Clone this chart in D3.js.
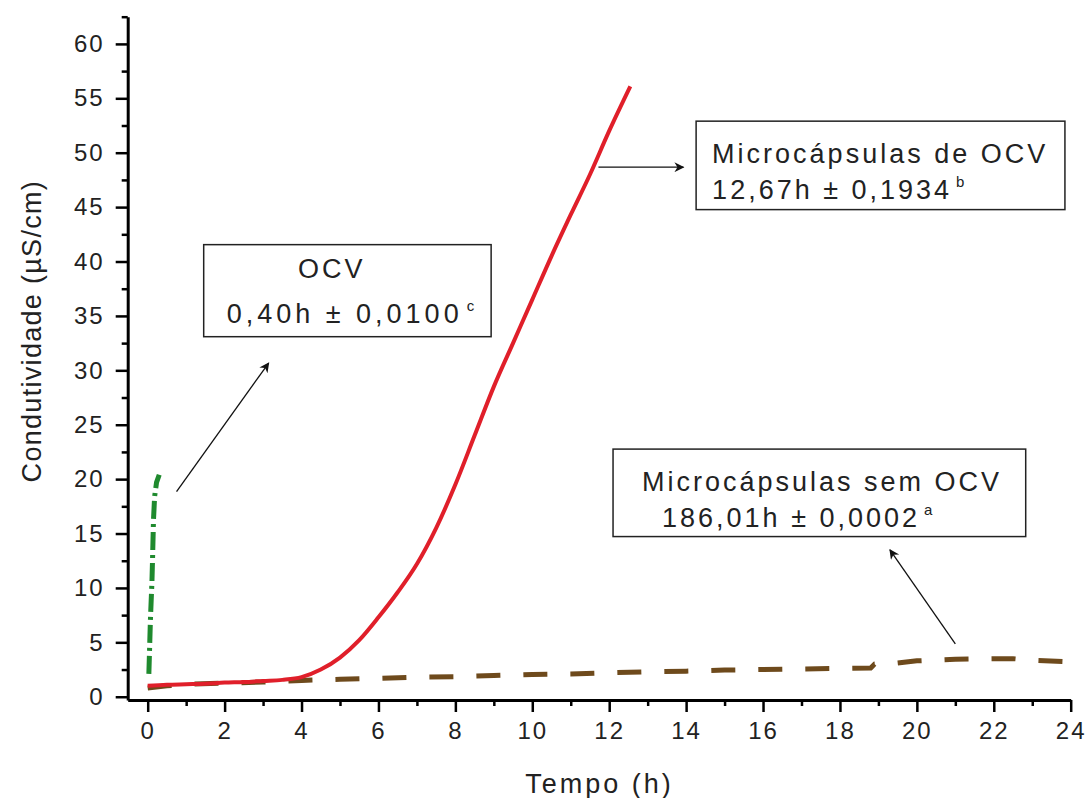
<!DOCTYPE html>
<html>
<head>
<meta charset="utf-8">
<script src="https://cdn.jsdelivr.net/npm/d3@7"></script>
<style>
  body { margin: 0; background: #fff; }
  text { font-family: Arial, "Liberation Sans", sans-serif; fill: #222; }
</style>
</head>
<body>
<script>
// series (time in h, conductivity in µS/cm)
var ocvTime = [0.03, 0.05, 0.07, 0.09, 0.11, 0.13, 0.15, 0.18, 0.23, 0.30];
var ocvCond = [2.1, 4.5, 7.0, 8.8, 10.5, 13.2, 16.2, 18.4, 19.7, 20.4];

var comOcvTime = [0, 0.5, 1, 1.5, 2, 2.5, 3, 3.5, 4, 4.5, 5, 5.5, 6, 6.5, 7, 7.5, 8, 8.5, 9, 9.5, 10, 10.5, 11, 11.5, 12, 12.55];
var comOcvCond = [1.0, 1.1, 1.15, 1.2, 1.3, 1.35, 1.45, 1.55, 1.8, 2.5, 3.6, 5.2, 7.3, 9.6, 12.2, 15.5, 19.5, 24.0, 28.5, 32.5, 36.5, 40.5, 44.3, 48.0, 52.0, 56.1];

var semOcvTime = [0, 0.5, 1, 2, 3, 4, 5, 6, 7, 8, 9, 10, 11, 12, 13, 14, 15, 16, 17, 18, 18.8, 18.9, 19.5, 20, 21, 22, 22.5, 23, 24];
var semOcvCond = [0.8, 1.0, 1.15, 1.25, 1.35, 1.5, 1.6, 1.7, 1.8, 1.85, 1.95, 2.05, 2.1, 2.2, 2.3, 2.35, 2.45, 2.5, 2.55, 2.6, 2.65, 3.0, 3.1, 3.3, 3.45, 3.5, 3.5, 3.35, 3.2];

var xMajorTicks = [0, 2, 4, 6, 8, 10, 12, 14, 16, 18, 20, 22, 24];
var xMinorTicks = [1, 3, 5, 7, 9, 11, 13, 15, 17, 19, 21, 23];
var yMajorTicks = [0, 5, 10, 15, 20, 25, 30, 35, 40, 45, 50, 55, 60];
var yMinorTicks = [2.5, 7.5, 12.5, 17.5, 22.5, 27.5, 32.5, 37.5, 42.5, 47.5, 52.5, 57.5, 62.5];

var xTitle = "Tempo (h)";
var yTitle = "Condutividade (µS/cm)";

// annotation boxes (corners in data units), label lines, arrows
var boxCorners = [[1.456, 41.55, 8.93, 33.09], [14.26, 52.9, 23.85, 44.77], [12.10, 22.76, 22.83, 14.72]];
var boxLine1 = ["OCV", "Microcápsulas de OCV", "Microcápsulas sem OCV"];
var boxLine2 = ["0,40h ± 0,0100", "12,67h ± 0,1934", "186,01h ± 0,0002"];
var boxSup = ["c", "b", "a"];
var arrowFrom = [[0.75, 18.86], [11.72, 48.67], [21.0, 4.85]];
var arrowTo = [[3.145, 30.67], [13.93, 48.67], [19.3, 13.5]];

var W = 1089, H = 798;
var svg = d3.select("body").append("svg").attr("width", W).attr("height", H);

var x = d3.scaleLinear().domain([-0.52, 24]).range([127.7, 1070.7]);
var y = d3.scaleLinear().domain([-0.3, 62.5]).range([700, 16.7]);

svg.append("defs").append("marker")
  .attr("id", "head")
  .attr("viewBox", "0 0 10 10")
  .attr("refX", 9).attr("refY", 5)
  .attr("markerWidth", 14).attr("markerHeight", 10)
  .attr("markerUnits", "userSpaceOnUse")
  .attr("orient", "auto")
  .append("path").attr("d", "M0,0L10,5L0,10L3,5Z").attr("fill", "#111");

// axes
svg.append("g").attr("transform", "translate(0,700)")
  .call(d3.axisBottom(x).tickValues(xMajorTicks).tickSize(12).tickSizeOuter(0).tickPadding(10));
svg.append("g").attr("transform", "translate(0,700)")
  .call(d3.axisBottom(x).tickValues(xMinorTicks).tickSize(6).tickFormat(""))
  .select(".domain").remove();
svg.append("g").attr("transform", "translate(127.7,0)")
  .call(d3.axisLeft(y).tickValues(yMajorTicks).tickSize(12).tickSizeOuter(0).tickPadding(11));
svg.append("g").attr("transform", "translate(127.7,0)")
  .call(d3.axisLeft(y).tickValues(yMinorTicks).tickSize(6).tickFormat(""))
  .select(".domain").remove();

svg.selectAll(".domain").attr("stroke", "#000").attr("stroke-width", 3);
svg.selectAll(".tick line").attr("stroke", "#000").attr("stroke-width", 2.5);
svg.selectAll(".tick text")
  .attr("font-size", 24)
  .attr("letter-spacing", 2)
  .attr("fill", "#222")
  .attr("font-family", "Arial, 'Liberation Sans', sans-serif");

// titles
svg.append("text")
  .attr("x", x(11.75)).attr("y", 793)
  .attr("text-anchor", "middle")
  .attr("font-size", 27).attr("letter-spacing", 3)
  .text(xTitle);
svg.append("text")
  .attr("transform", "translate(41," + y(33.6) + ") rotate(-90)")
  .attr("text-anchor", "middle")
  .attr("font-size", 27).attr("letter-spacing", 1.3)
  .text(yTitle);

// series
function series(ts, vs) {
  return ts.map(function(t, i) { return [t, vs[i]]; });
}
var line = d3.line()
  .x(function(d) { return x(d[0]); })
  .y(function(d) { return y(d[1]); });

svg.append("path")
  .datum(series(semOcvTime, semOcvCond))
  .attr("d", line.curve(d3.curveLinear))
  .attr("fill", "none")
  .attr("stroke", "#6e4a1c")
  .attr("stroke-width", 5)
  .attr("stroke-dasharray", "24,23");

svg.append("path")
  .datum(series(comOcvTime, comOcvCond))
  .attr("d", line.curve(d3.curveMonotoneX))
  .attr("fill", "none")
  .attr("stroke", "#e01f2a")
  .attr("stroke-width", 4);

svg.append("path")
  .datum(series(ocvTime, ocvCond))
  .attr("d", line.curve(d3.curveLinear))
  .attr("fill", "none")
  .attr("stroke", "#1f8a2e")
  .attr("stroke-width", 5)
  .attr("stroke-dasharray", "18,5,3,5");

// annotation arrows
arrowFrom.forEach(function(p, i) {
  svg.append("line")
    .attr("x1", x(p[0])).attr("y1", y(p[1]))
    .attr("x2", x(arrowTo[i][0])).attr("y2", y(arrowTo[i][1]))
    .attr("stroke", "#111").attr("stroke-width", 1.3)
    .attr("marker-end", "url(#head)");
});

// annotation boxes
var padL = [128, 16, 29], padL2 = [23, 16, 49];
boxCorners.forEach(function(b, i) {
  var left = x(b[0]), top = y(b[1]), right = x(b[2]), bottom = y(b[3]);
  var g = svg.append("g");
  g.append("rect")
    .attr("x", left).attr("y", top)
    .attr("width", right - left).attr("height", bottom - top)
    .attr("fill", "#fff").attr("stroke", "#222").attr("stroke-width", 1.5);
  g.append("text")
    .attr("x", left + padL[i]).attr("y", top + (i === 0 ? 33 : 42))
    .attr("text-anchor", i === 0 ? "middle" : "start")
    .attr("font-size", 27).attr("letter-spacing", 3)
    .text(boxLine1[i]);
  var t2 = g.append("text")
    .attr("x", left + padL2[i]).attr("y", top + 78)
    .attr("font-size", 27).attr("letter-spacing", i === 0 ? 4 : 3)
    .text(boxLine2[i]);
  t2.append("tspan")
    .attr("dx", 4).attr("dy", -12)
    .attr("font-size", 15).attr("letter-spacing", 0)
    .text(boxSup[i]);
});
</script>
</body>
</html>
